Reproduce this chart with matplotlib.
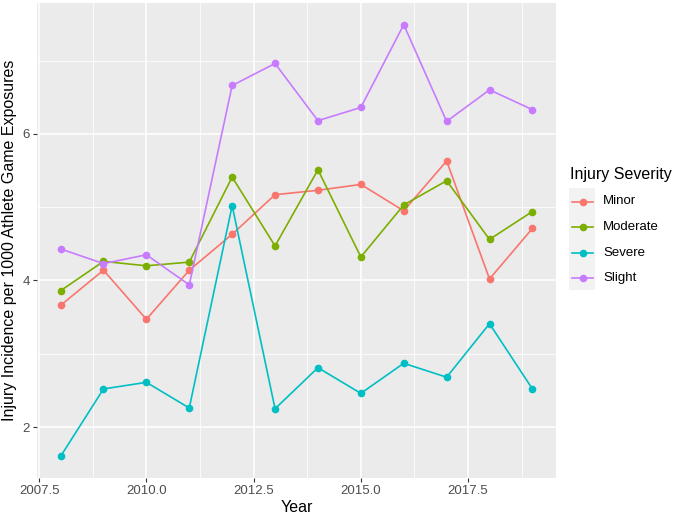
import matplotlib
matplotlib.use("Agg")
import matplotlib.pyplot as plt
from matplotlib.lines import Line2D
from matplotlib.patches import Rectangle

plt.rcParams["font.family"] = ["Liberation Sans", "DejaVu Sans"]

years = [2008, 2009, 2010, 2011, 2012, 2013, 2014, 2015, 2016, 2017, 2018, 2019]
severities = ["Minor", "Moderate", "Severe", "Slight"]
minor = [3.66, 4.14, 3.47, 4.14, 4.63, 5.17, 5.23, 5.31, 4.95, 5.63, 4.02, 4.71]
moderate = [3.86, 4.26, 4.20, 4.25, 5.41, 4.47, 5.51, 4.32, 5.03, 5.36, 4.56, 4.94]
severe = [1.60, 2.52, 2.61, 2.26, 5.02, 2.25, 2.81, 2.46, 2.87, 2.68, 3.41, 2.52]
slight = [4.43, 4.23, 4.35, 3.94, 6.66, 6.96, 6.18, 6.36, 7.49, 6.17, 6.60, 6.33]
colors = ["#F8766D", "#7CAE00", "#00BFC4", "#C77CFF"]

x_ticks = [2007.5, 2010.0, 2012.5, 2015.0, 2017.5]
y_ticks = [2, 4, 6]

W, H = 674, 517
fig = plt.figure(figsize=(W / 100, H / 100), dpi=100)
ax = fig.add_axes([37 / W, 1 - 478 / H, (556 - 37) / W, (478 - 3) / H])
ax.set_facecolor("#EBEBEB")
for s in ax.spines.values():
    s.set_visible(False)

for vals, col in zip([minor, moderate, severe, slight], colors):
    ax.plot(years, vals, color=col, lw=1.2, marker="o", ms=4.5, zorder=3)

ax.set_xlim(2007.45, 2019.55)
ax.set_ylim(1.305, 7.785)
ax.set_xticks(x_ticks)
ax.set_xticklabels([f"{t:.1f}" for t in x_ticks])
ax.set_yticks(y_ticks)
ax.set_xticks([2008.75, 2011.25, 2013.75, 2016.25, 2018.75], minor=True)
ax.set_yticks([3, 5, 7], minor=True)
ax.grid(which="major", color="white", lw=1.1)
ax.grid(which="minor", color="white", lw=0.55)
ax.set_axisbelow(True)
ax.tick_params(which="major", length=3, width=0.8, color="#333333",
               labelsize=9.5, labelcolor="#4D4D4D", pad=2)
ax.tick_params(which="minor", length=0)
ax.set_xlabel("Year", fontsize=11.5, labelpad=2)
ax.set_ylabel("Injury Incidence per 1000 Athlete Game Exposures", fontsize=11.5, labelpad=4)

# legend, drawn by hand in pixel space to match ggplot's layout
fig.text(570 / W, 1 - 175 / H, "Injury Severity", fontsize=11.5, va="center", ha="left")
fig.patches.append(Rectangle((569 / W, 1 - 290 / H), 26 / W, 102 / H,
                             transform=fig.transFigure, facecolor="#F2F2F2",
                             edgecolor="none"))
for i, (name, col) in enumerate(zip(severities, colors)):
    yy = 1 - (201.5 + 25.6 * i) / H
    fig.add_artist(Line2D([572 / W, 593 / W], [yy, yy], color=col, lw=1.2,
                          transform=fig.transFigure))
    fig.add_artist(Line2D([582.5 / W], [yy], color=col, marker="o", ms=4.5,
                          transform=fig.transFigure))
    fig.text(603 / W, yy, name, fontsize=9.5, va="center", ha="left")

fig.savefig("out.png", dpi=100)
